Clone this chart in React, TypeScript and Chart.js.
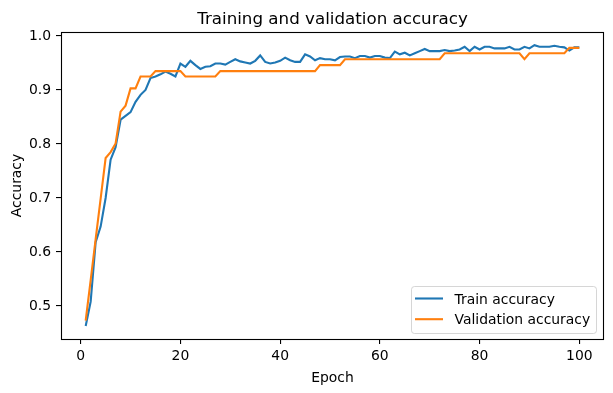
import React, { useEffect, useRef } from "react";
import { Chart, registerables } from "chart.js";
Chart.register(...registerables);

const FONT = "'DejaVu Sans', sans-serif";

const epochs: number[] = Array.from({ length: 100 }, (_, i) => i + 1);

const trainAcc: number[] = [
  0.463, 0.508, 0.618, 0.647, 0.700, 0.771, 0.794, 0.845, 0.852, 0.859,
  0.878, 0.891, 0.900, 0.922, 0.925, 0.929, 0.934, 0.930, 0.925, 0.949,
  0.943, 0.954, 0.946, 0.939, 0.943, 0.944, 0.949, 0.949, 0.947, 0.952,
  0.957, 0.953, 0.951, 0.949, 0.954, 0.964, 0.952, 0.949, 0.951, 0.954,
  0.960, 0.955, 0.952, 0.952, 0.966, 0.962, 0.955, 0.959, 0.957, 0.957,
  0.955, 0.961, 0.962, 0.962, 0.959, 0.963, 0.963, 0.960, 0.963, 0.963,
  0.960, 0.959, 0.971, 0.966, 0.969, 0.964, 0.968, 0.972, 0.976, 0.972,
  0.972, 0.972, 0.974, 0.972, 0.973, 0.975, 0.980, 0.972, 0.980, 0.975,
  0.980, 0.980, 0.977, 0.977, 0.977, 0.980, 0.975, 0.975, 0.980, 0.977,
  0.983, 0.980, 0.980, 0.980, 0.982, 0.980, 0.979, 0.973, 0.979, 0.979,
];

const valAcc: number[] = [
  0.473, 0.548, 0.624, 0.699, 0.774, 0.785, 0.801, 0.860, 0.871, 0.903,
  0.903, 0.925, 0.925, 0.925, 0.935, 0.935, 0.935, 0.935, 0.935, 0.935,
  0.925, 0.925, 0.925, 0.925, 0.925, 0.925, 0.925, 0.935, 0.935, 0.935,
  0.935, 0.935, 0.935, 0.935, 0.935, 0.935, 0.935, 0.935, 0.935, 0.935,
  0.935, 0.935, 0.935, 0.935, 0.935, 0.935, 0.935, 0.946, 0.946, 0.946,
  0.946, 0.946, 0.957, 0.957, 0.957, 0.957, 0.957, 0.957, 0.957, 0.957,
  0.957, 0.957, 0.957, 0.957, 0.957, 0.957, 0.957, 0.957, 0.957, 0.957,
  0.957, 0.957, 0.968, 0.968, 0.968, 0.968, 0.968, 0.968, 0.968, 0.968,
  0.968, 0.968, 0.968, 0.968, 0.968, 0.968, 0.968, 0.968, 0.957, 0.968,
  0.968, 0.968, 0.968, 0.968, 0.968, 0.968, 0.968, 0.978, 0.978, 0.978,
];

const xTicks: number[] = [0, 20, 40, 60, 80, 100];
const yTicks: number[] = [0.5, 0.6, 0.7, 0.8, 0.9, 1.0];

const seriesLabels = ["Train accuracy", "Validation accuracy"];
const seriesColors = ["#1f77b4", "#ff7f0e"];
const titleText = "Training and validation accuracy";
const xTitle = "Epoch";
const yTitle = "Accuracy";

export default function App() {
  const ref = useRef<HTMLCanvasElement>(null);

  useEffect(() => {
    document.body.style.margin = "0";
    const canvas = ref.current!;

    const framePlugin = {
      id: "frame",
      afterDraw(chart: any) {
        const { ctx, chartArea } = chart;
        const { left, right, top, bottom } = chartArea;
        ctx.save();
        // axes box
        ctx.strokeStyle = "#000";
        ctx.lineWidth = 1.1;
        ctx.strokeRect(left + 0.5, top + 0.5, right - left - 1, bottom - top);
        // title
        ctx.fillStyle = "#000";
        ctx.font = `16.7px ${FONT}`;
        ctx.textAlign = "center";
        ctx.textBaseline = "alphabetic";
        ctx.fillText(titleText, (left + right) / 2, top - 8.3);
        // x title
        ctx.font = `13.9px ${FONT}`;
        ctx.fillText(xTitle, (left + right) / 2, 382);
        // y title
        ctx.save();
        ctx.translate(20.5, (top + bottom) / 2);
        ctx.rotate(-Math.PI / 2);
        ctx.fillText(yTitle, 0, 0);
        ctx.restore();
        // legend
        const lx = 411.5, ly = 286.5, lw = 185, lh = 47, r = 3;
        ctx.beginPath();
        ctx.moveTo(lx + r, ly);
        ctx.lineTo(lx + lw - r, ly);
        ctx.quadraticCurveTo(lx + lw, ly, lx + lw, ly + r);
        ctx.lineTo(lx + lw, ly + lh - r);
        ctx.quadraticCurveTo(lx + lw, ly + lh, lx + lw - r, ly + lh);
        ctx.lineTo(lx + r, ly + lh);
        ctx.quadraticCurveTo(lx, ly + lh, lx, ly + lh - r);
        ctx.lineTo(lx, ly + r);
        ctx.quadraticCurveTo(lx, ly, lx + r, ly);
        ctx.closePath();
        ctx.fillStyle = "rgba(255,255,255,0.8)";
        ctx.fill();
        ctx.strokeStyle = "rgba(204,204,204,0.8)";
        ctx.lineWidth = 1;
        ctx.stroke();
        const rows = [298.5, 319.2];
        seriesLabels.forEach((lab, i) => {
          ctx.strokeStyle = seriesColors[i];
          ctx.lineWidth = 2.1;
          ctx.beginPath();
          ctx.moveTo(415, rows[i]);
          ctx.lineTo(443, rows[i]);
          ctx.stroke();
          ctx.fillStyle = "#000";
          ctx.font = `13.9px ${FONT}`;
          ctx.textAlign = "left";
          ctx.textBaseline = "alphabetic";
          ctx.fillText(lab, 454.5, rows[i] + 5.2);
        });
        ctx.restore();
      },
    };

    const gridOpts = {
      drawOnChartArea: false,
      drawTicks: true,
      tickLength: 5,
      color: "#000",
      lineWidth: 1.1,
    };
    const tickFont = { family: FONT, size: 13.9 };

    const chart = new Chart(canvas, {
      type: "line",
      data: {
        datasets: [
          {
            label: seriesLabels[0],
            data: trainAcc.map((v, i) => ({ x: epochs[i], y: v })),
            borderColor: seriesColors[0],
            backgroundColor: seriesColors[0],
            borderWidth: 2.1,
            pointRadius: 0,
            tension: 0,
            order: 1,
          },
          {
            label: seriesLabels[1],
            data: valAcc.map((v, i) => ({ x: epochs[i], y: v })),
            borderColor: seriesColors[1],
            backgroundColor: seriesColors[1],
            borderWidth: 2.1,
            pointRadius: 0,
            tension: 0,
            order: 0,
          },
        ],
      },
      options: {
        responsive: false,
        animation: false,
        devicePixelRatio: 1,
        layout: { padding: { top: 32, right: 9, left: 0, bottom: 0 } },
        plugins: {
          legend: { display: false },
          title: { display: false },
          tooltip: { enabled: false },
        },
        scales: {
          x: {
            type: "linear",
            min: -3.95,
            max: 104.95,
            afterBuildTicks: (axis: any) => {
              axis.ticks = xTicks.map((v) => ({ value: v }));
            },
            afterFit: (s: any) => {
              s.height = 54;
            },
            grid: gridOpts,
            border: { display: false },
            ticks: {
              font: tickFont,
              color: "#000",
              padding: 4,
              maxRotation: 0,
              autoSkip: false,
              callback: (v: any) => String(v),
            },
          },
          y: {
            type: "linear",
            min: 0.4389,
            max: 1.0074,
            afterBuildTicks: (axis: any) => {
              axis.ticks = yTicks.map((v) => ({ value: v }));
            },
            afterFit: (s: any) => {
              s.width = 61;
            },
            grid: gridOpts,
            border: { display: false },
            ticks: {
              font: tickFont,
              color: "#000",
              padding: 5,
              autoSkip: false,
              callback: (v: any) => Number(v).toFixed(1),
            },
          },
        },
      } as any,
      plugins: [framePlugin],
    });
    return () => chart.destroy();
  }, []);

  return (
    <canvas
      ref={ref}
      width={613}
      height={393}
      style={{ display: "block", width: 613, height: 393 }}
    />
  );
}
